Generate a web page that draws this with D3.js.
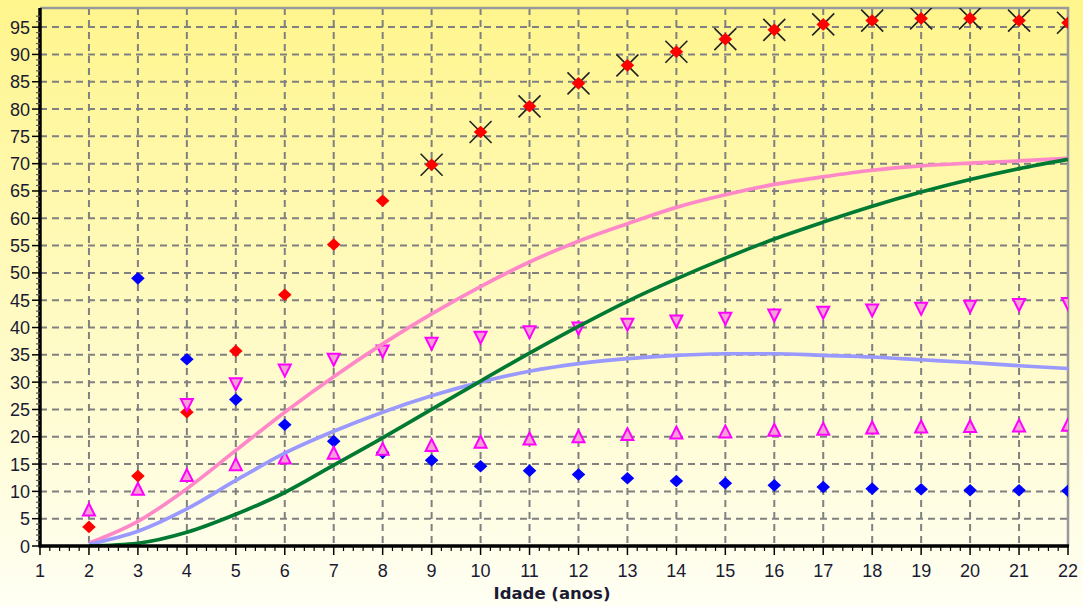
<!DOCTYPE html>
<html><head><meta charset="utf-8">
<script src="https://cdn.jsdelivr.net/npm/d3@7"></script>
<style>html,body{margin:0;padding:0;}svg{display:block;}</style>
</head><body>
<script>
// ---- data ----
const ages = [2,3,4,5,6,7,8,9,10,11,12,13,14,15,16,17,18,19,20,21,22];
const redPts = [3.5,12.8,24.5,35.7,46,55.2,63.2,69.8,75.8,80.5,84.7,88,90.5,92.8,94.5,95.5,96.2,96.6,96.6,96.2,95.8];
const crossAges = [9,10,11,12,13,14,15,16,17,18,19,20,21,22];
const crossPts = [69.8,75.8,80.5,84.7,88,90.5,92.8,94.5,95.5,96.2,96.6,96.6,96.2,95.8];
const blueAges = [3,4,5,6,7,8,9,10,11,12,13,14,15,16,17,18,19,20,21,22];
const bluePts = [49,34.2,26.8,22.2,19.2,17.1,15.7,14.6,13.8,13.1,12.4,11.9,11.5,11.1,10.8,10.5,10.4,10.2,10.2,10.1];
const upPts = [6.5,10.3,12.8,14.8,16,16.9,17.6,18.3,18.9,19.5,19.9,20.3,20.6,20.8,21.1,21.3,21.5,21.7,21.8,21.9,22];
const downAges = [4,5,6,7,8,9,10,11,12,13,14,15,16,17,18,19,20,21,22];
const downPts = [26,29.8,32.3,34.3,35.8,37.2,38.3,39.3,40,40.7,41.3,41.8,42.4,42.9,43.3,43.6,44,44.3,44.5];
const pinkLine = [0.5,4.5,10.5,17.5,24.5,31,37,42.5,47.5,52,55.8,59,62,64.3,66.2,67.6,68.8,69.6,70.1,70.5,71];
const lilacLine = [0.3,2.7,6.8,12,17,21,24.5,27.5,30,32,33.4,34.3,34.9,35.2,35.2,34.9,34.6,34.1,33.6,33,32.5];
const greenLine = [0,0.5,2.5,5.8,9.8,14.8,19.8,25,30.2,35.3,40.2,44.8,48.9,52.7,56.2,59.3,62.2,64.8,67.1,69.1,70.8];
const xTicks = d3.range(1,23);
const yTicks = d3.range(0,100,5);
const xTitle = "Idade (anos)";

// ---- layout ----
const W = 1083, H = 606;
const L = 40, R = 1068, T = 8, B = 546;
const x = d3.scaleLinear().domain([1,22]).range([L,R]);
const y = d3.scaleLinear().domain([0,98.5]).range([B,T]);

const svg = d3.select("body").append("svg").attr("width",W).attr("height",H);
const defs = svg.append("defs");
const g = defs.append("linearGradient").attr("id","bg").attr("x1",0).attr("y1",0).attr("x2",0).attr("y2",1);
g.append("stop").attr("offset","0%").attr("stop-color","#FFF58C");
g.append("stop").attr("offset","100%").attr("stop-color","#FFFFF4");
defs.append("clipPath").attr("id","clip").append("rect")
  .attr("x",L).attr("y",T).attr("width",R-L).attr("height",B-T);

svg.append("rect").attr("width",W).attr("height",H).attr("fill","url(#bg)");

// grid
const grid = svg.append("g").attr("stroke","#808080").attr("stroke-width",2).attr("stroke-dasharray","7,5");
grid.selectAll("line.v").data(xTicks.filter(d=>d>1&&d<22)).join("line")
  .attr("x1",d=>x(d)).attr("x2",d=>x(d)).attr("y1",T).attr("y2",B);
grid.selectAll("line.h").data(yTicks.filter(d=>d>0)).join("line")
  .attr("y1",d=>y(d)).attr("y2",d=>y(d)).attr("x1",L).attr("x2",R);

// border top/right
svg.append("path").attr("d",`M${L},${T}H${R}V${B}`).attr("fill","none").attr("stroke","#999").attr("stroke-width",2.5);

const plot = svg.append("g").attr("clip-path","url(#clip)");

// crosses
const cs = 11;
plot.append("g").selectAll("path").data(crossAges.map((a,i)=>[a,crossPts[i]])).join("path")
  .attr("d",d=>{const cx=x(d[0]),cy=y(d[1]);return `M${cx-cs},${cy-cs}L${cx+cs},${cy+cs}M${cx-cs},${cy+cs}L${cx+cs},${cy-cs}`;})
  .attr("stroke","#222").attr("stroke-width",1.6);

const diamond = (cx,cy,r)=>`M${cx},${cy-r}L${cx+r+0.5},${cy}L${cx},${cy+r}L${cx-r-0.5},${cy}Z`;
// blue diamonds
plot.append("g").selectAll("path").data(blueAges.map((a,i)=>[a,bluePts[i]])).join("path")
  .attr("d",d=>diamond(x(d[0]),y(d[1]),6.3)).attr("fill","#0000FF");
// red diamonds
plot.append("g").selectAll("path").data(ages.map((a,i)=>[a,redPts[i]])).join("path")
  .attr("d",d=>diamond(x(d[0]),y(d[1]),6.3)).attr("fill","#FF0000");

// triangles
const triUp = (cx,cy)=>`M${cx},${cy-7}L${cx+6},${cy+5}L${cx-6},${cy+5}Z`;
const triDown = (cx,cy)=>`M${cx-6},${cy-5}L${cx+6},${cy-5}L${cx},${cy+7}Z`;
plot.append("g").selectAll("path").data(ages.map((a,i)=>[a,upPts[i]])).join("path")
  .attr("d",d=>triUp(x(d[0]),y(d[1]))).attr("fill","#F4A0D4").attr("stroke","#FF00FF").attr("stroke-width",2);
plot.append("g").selectAll("path").data(downAges.map((a,i)=>[a,downPts[i]])).join("path")
  .attr("d",d=>triDown(x(d[0]),y(d[1]))).attr("fill","#F4A0D4").attr("stroke","#FF00FF").attr("stroke-width",2);

// curves
const line = d3.line().x((d,i)=>x(ages[i])).y(d=>y(d)).curve(d3.curveMonotoneX);
[[pinkLine,"#FF88C8"],[lilacLine,"#9999FF"],[greenLine,"#007A33"]].forEach(([data,c])=>{
  plot.append("path").attr("d",line(data)).attr("fill","none").attr("stroke",c).attr("stroke-width",3.7);
});

// axes
const ax = svg.append("g").attr("stroke","#000");
ax.append("line").attr("x1",L).attr("x2",R+1).attr("y1",B).attr("y2",B).attr("stroke-width",3.5);
ax.append("line").attr("x1",L).attr("x2",L).attr("y1",T).attr("y2",B+1.5).attr("stroke-width",3.5);
// x ticks
ax.selectAll("line.xm").data(xTicks).join("line").attr("x1",d=>x(d)).attr("x2",d=>x(d)).attr("y1",B).attr("y2",B+9).attr("stroke-width",1.5);
const xMinor = d3.range(1,22,0.2).filter(v=>Math.abs(v-Math.round(v))>0.01);
ax.selectAll("line.xn").data(xMinor).join("line").attr("x1",d=>x(d)).attr("x2",d=>x(d)).attr("y1",B).attr("y2",B+5).attr("stroke-width",1.2);
// y ticks
ax.selectAll("line.ym").data(yTicks).join("line").attr("y1",d=>y(d)).attr("y2",d=>y(d)).attr("x1",L-8).attr("x2",L).attr("stroke-width",1.5);
const yMinor = d3.range(0,98,1).filter(v=>v%5!==0);
ax.selectAll("line.yn").data(yMinor).join("line").attr("y1",d=>y(d)).attr("y2",d=>y(d)).attr("x1",L-4).attr("x2",L).attr("stroke-width",1.2).attr("stroke","#555");

// labels
const lab = svg.append("g").attr("font-family","'Liberation Sans', Arial, sans-serif").attr("font-size",18).attr("fill","#1a1a33");
lab.selectAll("text.x").data(xTicks).join("text").attr("x",d=>x(d)).attr("y",577).attr("text-anchor","middle").text(d=>d);
lab.selectAll("text.y").data(yTicks).join("text").attr("x",30).attr("y",d=>y(d)+6.5).attr("text-anchor","end").text(d=>d);
svg.append("text").attr("x",552).attr("y",599).attr("text-anchor","middle")
  .attr("font-family","'DejaVu Sans', Verdana, sans-serif").attr("font-weight","bold").attr("font-size",16.5).attr("fill","#1a1a33").text(xTitle);
</script>
</body></html>
